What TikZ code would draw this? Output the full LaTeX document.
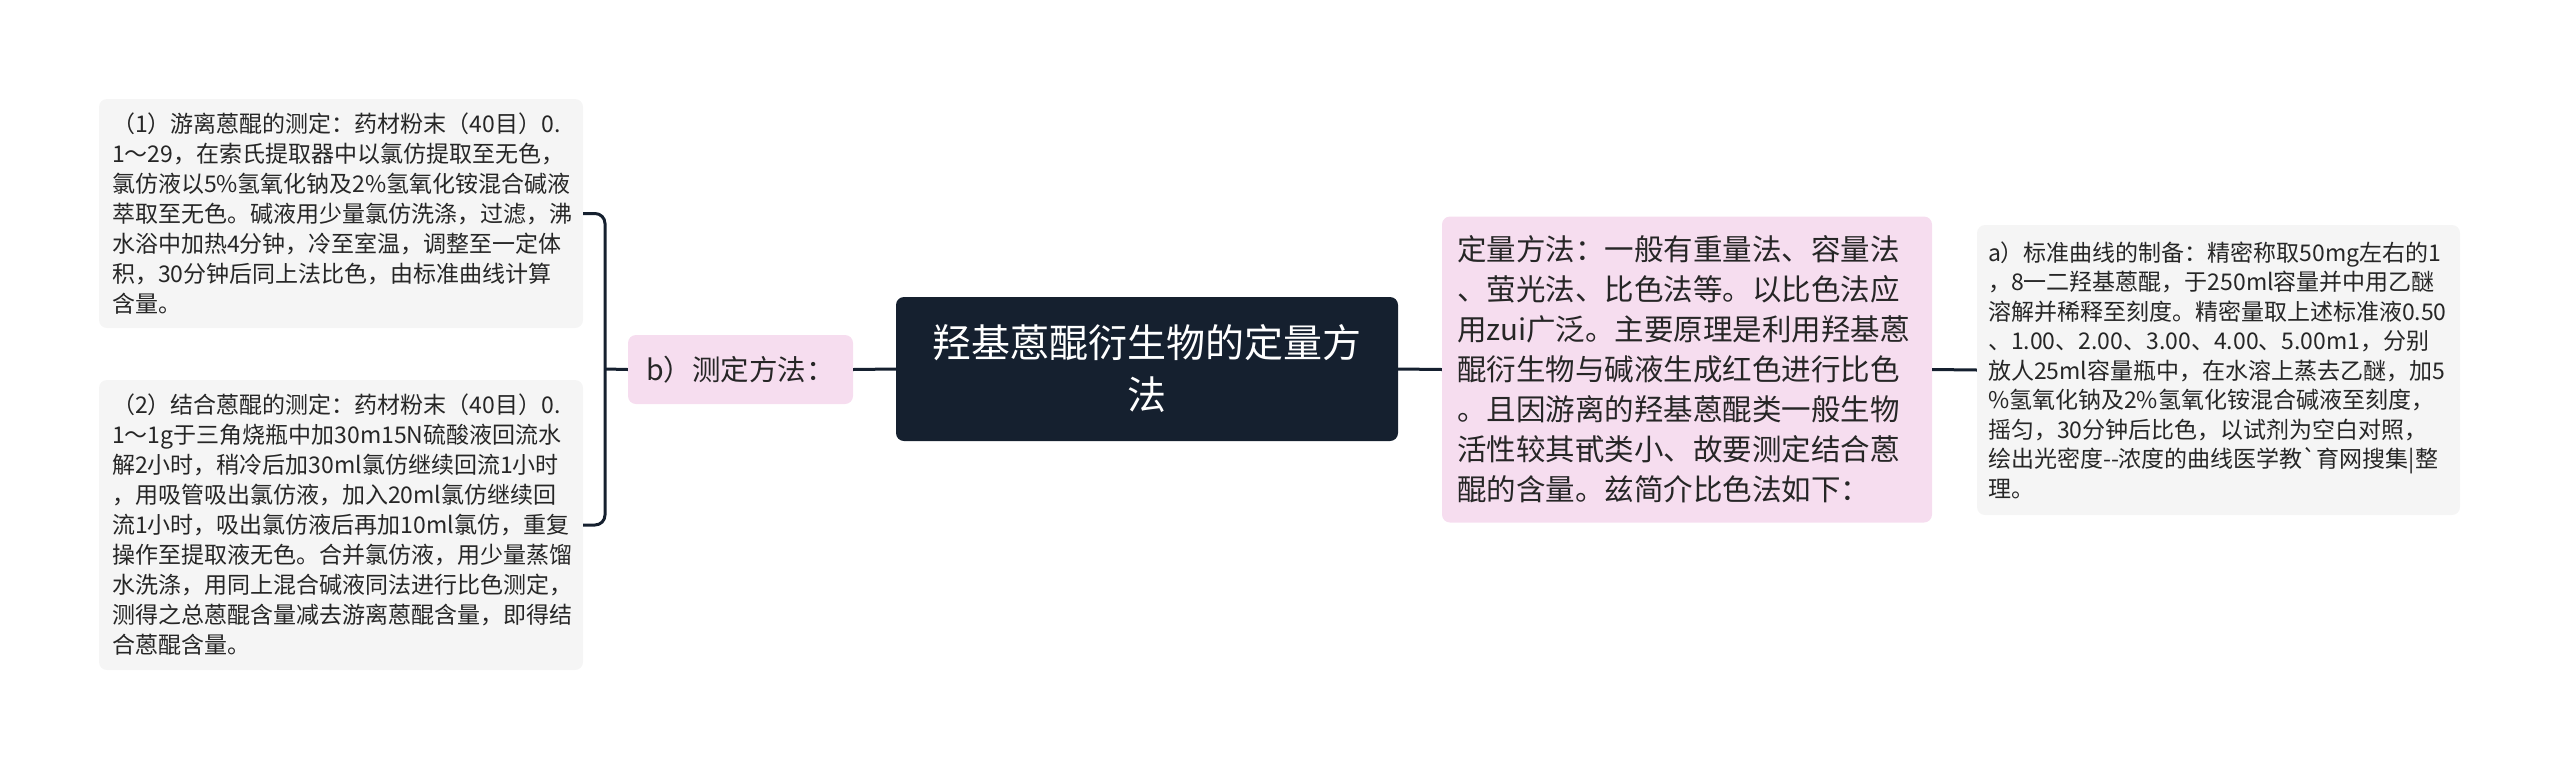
\documentclass[tikz,border=0pt]{standalone}
\usepackage{fontspec}
\setmainfont{Noto Sans CJK SC}[Ligatures=TeXOff]
\usepackage{tikz}
\definecolor{rootfill}{HTML}{15202F}
\definecolor{pinkfill}{HTML}{F6DDEF}
\definecolor{grayfill}{HTML}{F5F5F5}
\definecolor{textcol}{HTML}{262626}
\tikzset{
    box/.style={rounded corners=8pt, inner xsep=13pt, inner ysep=0pt, align=left, text=textcol},
    graybox/.style={box, fill=grayfill, font=\fontsize{23}{30}\selectfont},
    pinkbox/.style={box, fill=pinkfill},
    link/.style={draw=rootfill, line width=3pt},
}

\begin{document}
\begin{tikzpicture}[x=1pt,y=-1pt]
    \useasboundingbox (0,0) rectangle (2560,769);
    % centre
    \node[fill=rootfill, rounded corners=8pt, text width=460pt, minimum width=502pt, minimum height=144pt,
          text=white, align=center, font=\fontsize{39}{52}\selectfont] (root) at (1147,369)
          {羟基蒽醌衍生物的定量方\\法};
    % left side
    \node[pinkbox, minimum width=225pt, minimum height=69pt, font=\fontsize{28.5}{34}\selectfont] (measure) at (740.5,369.5) {b）测定方法：};
    \node[graybox, text width=458pt, minimum height=229pt] (free) at (341,213.5)
          {（1）游离蒽醌的测定：药材粉末（40目）0.\\
           1～29，在索氏提取器中以氯仿提取至无色，\\
           氯仿液以5\%氢氧化钠及2\%氢氧化铵混合碱液\\
           萃取至无色。碱液用少量氯仿洗涤，过滤，沸\\
           水浴中加热4分钟，冷至室温，调整至一定体\\
           积，30分钟后同上法比色，由标准曲线计算\\
           含量。};
    \node[graybox, text width=458pt, minimum height=290pt] (bound) at (341,525)
          {（2）结合蒽醌的测定：药材粉末（40目）0.\\
           1～1g于三角烧瓶中加30m15N硫酸液回流水\\
           解2小时，稍冷后加30ml氯仿继续回流1小时\\
           ，用吸管吸出氯仿液，加入20ml氯仿继续回\\
           流1小时，吸出氯仿液后再加10ml氯仿，重复\\
           操作至提取液无色。合并氯仿液，用少量蒸馏\\
           水洗涤，用同上混合碱液同法进行比色测定，\\
           测得之总蒽醌含量减去游离蒽醌含量，即得结\\
           合蒽醌含量。};
    \coordinate (spine) at (605,369);
    \draw[link, rounded corners=10pt] (free.east) -| (spine) |- (bound.east);
    \draw[link] (spine) -- (measure.west);
    \draw[link] (measure.east) -- (root.west);
    % right side
    \node[pinkbox, inner xsep=15pt, text width=460pt, minimum height=306pt, font=\fontsize{29.5}{40}\selectfont] (quant) at (1687,369.5)
          {定量方法：一般有重量法、容量法\\
           、萤光法、比色法等。以比色法应\\
           用zui广泛。主要原理是利用羟基蒽\\
           醌衍生物与碱液生成红色进行比色\\
           。且因游离的羟基蒽醌类一般生物\\
           活性较其甙类小、故要测定结合蒽\\
           醌的含量。兹简介比色法如下：};
    \node[graybox, inner xsep=11pt, text width=461pt, minimum height=290pt, font=\fontsize{23}{29.5}\selectfont] (curve) at (2218.5,370)
          {a）标准曲线的制备：精密称取50mg左右的1\\
           ，8一二羟基蒽醌，于250ml容量并中用乙醚\\
           溶解并稀释至刻度。精密量取上述标准液0.50\\
           、1.00、2.00、3.00、4.00、5.00m1，分别\\
           放人25ml容量瓶中，在水溶上蒸去乙醚，加5\\
           \%氢氧化钠及2\%氢氧化铵混合碱液至刻度，\\
           摇匀，30分钟后比色，以试剂为空白对照，\\
           绘出光密度--浓度的曲线医学教\char"60 育网搜集|整\\
           理。};
    \draw[link] (root.east) -- (quant.west);
    \draw[link] (quant.east) -- (curve.west);
\end{tikzpicture}
\end{document}
